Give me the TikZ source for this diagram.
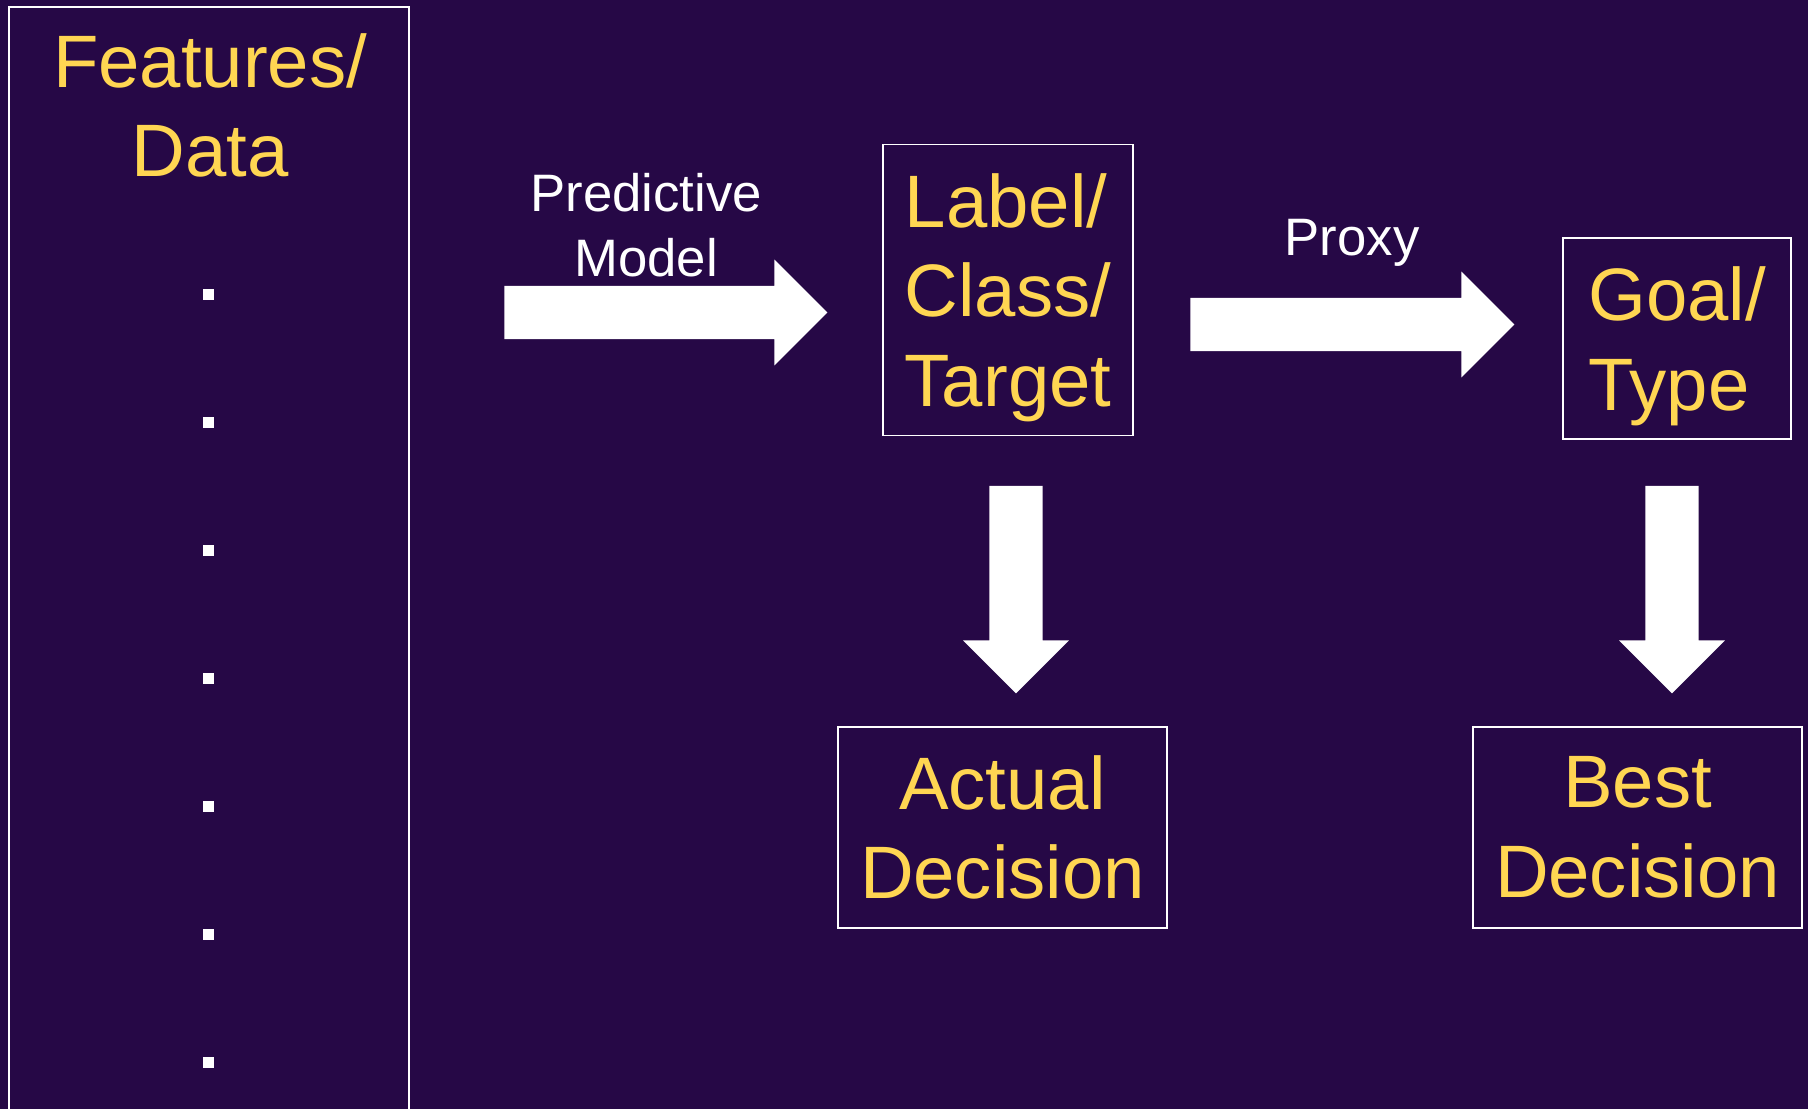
\documentclass[tikz,border=0pt]{standalone}
\usepackage{fontspec}
\setmainfont{Liberation Sans}
\usetikzlibrary{shapes.arrows}
\definecolor{bgpurple}{RGB}{38,8,70}
\definecolor{gold}{RGB}{255,214,82}
\newcommand{\bigtext}{\fontsize{42.3}{51}\selectfont}
\newcommand{\smalltext}{\fontsize{30}{37}\selectfont}
\begin{document}
\begin{tikzpicture}[x=0.02cm, y=-0.02cm,
  title/.style={text=gold, align=center, inner sep=0pt, font=\bigtext},
  box/.style={title, draw=white, line width=0.3mm},
  lbl/.style={text=white, align=center, inner sep=0pt, font=\smalltext},
  sq/.style={fill=white, minimum size=2.2mm, inner sep=0pt},
  blockarrow/.style={single arrow, fill=white, inner sep=0pt, inner ysep=5.27mm,
    single arrow head extend=5.25mm, single arrow tip angle=90, minimum width=0pt}]
\fill[bgpurple] (0,0) rectangle (1808,1109);
\useasboundingbox (0,0) rectangle (1808,1109);
% left column
\node[box, minimum width=80mm, minimum height=221.6mm] (data) at (209,561) {};
\node[title] (datalbl) at (210,105.5) {Features/\\Data};
\foreach \y [count=\i] in {294,422,...,1062}
  \node[sq] (dot\i) at (208.5,\y) {};
% boxes
\node[box, align=left, minimum width=50mm, minimum height=58.2mm] (target) at (1008,290) {Label/\\Class/\\\smash{Target}};
\node[box, align=left, minimum width=45.6mm, minimum height=40.2mm] (goal) at (1677,338.5) {Goal/\\\smash{Type}};
\node[box, minimum width=65.8mm, minimum height=40.2mm] (actual) at (1002.5,827.5) {Actual\\Decision};
\node[box, minimum width=65.8mm, minimum height=40.2mm] (best) at (1637.5,827.5) {Best\\Decision};
% block arrows
\node[blockarrow, minimum height=64.6mm, anchor=tail] (pm) at (504,312.5) {};
\node[blockarrow, minimum height=64.8mm, anchor=tail] (px) at (1190,324.5) {};
\node[blockarrow, minimum height=41.5mm, anchor=tail, rotate=-90] (dn1) at (1016,485.5) {};
\node[blockarrow, minimum height=41.5mm, anchor=tail, rotate=-90] (dn2) at (1672,485.5) {};
\node[lbl] (pmlbl) at (646,225) {Predictive\\Model};
\node[lbl, anchor=base] (pxlbl) at (1352,255) {Proxy};
\end{tikzpicture}
\end{document}
